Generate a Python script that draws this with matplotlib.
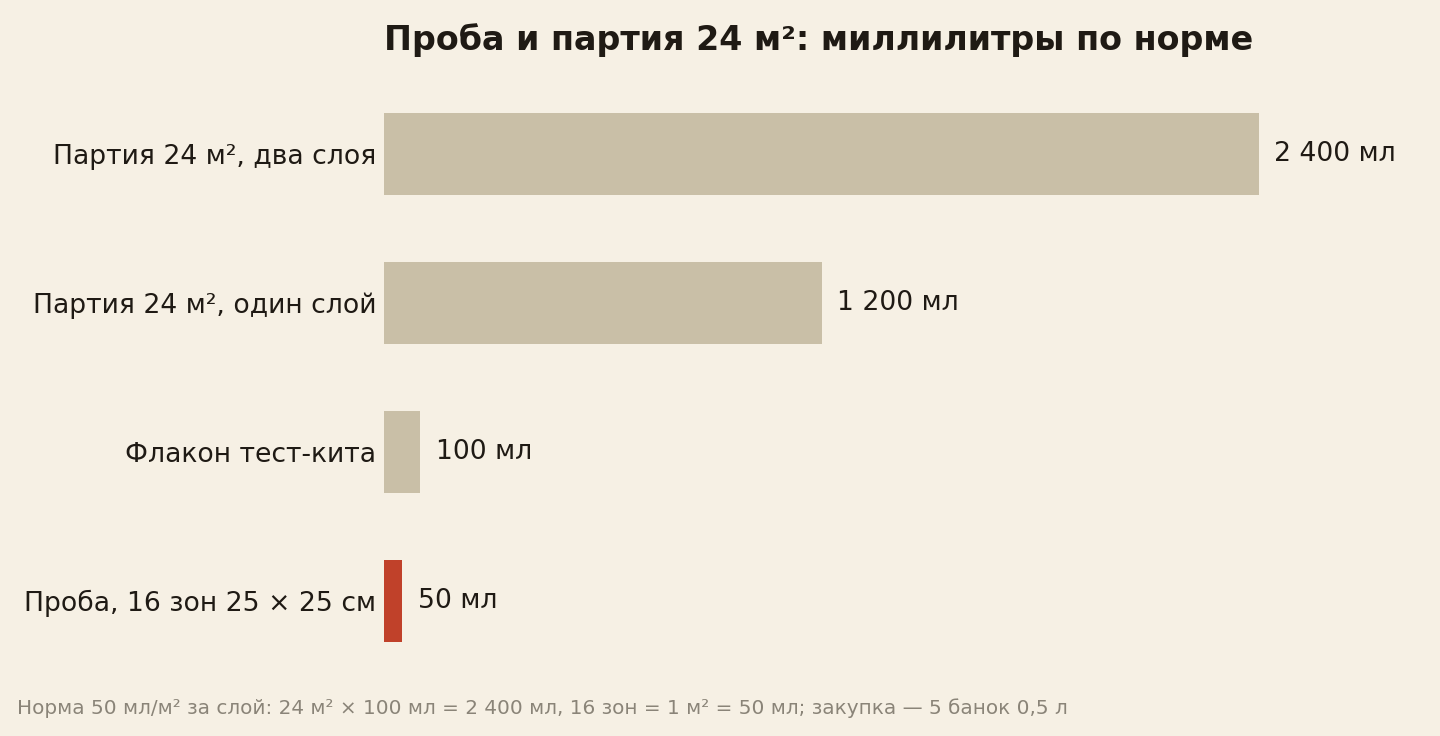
import matplotlib
matplotlib.use("Agg")
import matplotlib.pyplot as plt

categories = ["Партия 24 м², два слоя", "Партия 24 м², один слой", "Флакон тест-кита", "Проба, 16 зон 25 × 25 см"]
values = [2400, 1200, 100, 50]
value_labels = ["2 400 мл", "1 200 мл", "100 мл", "50 мл"]
colors = ["#c9bfa7", "#c9bfa7", "#c9bfa7", "#c0412a"]
title = "Проба и партия 24 м²: миллилитры по норме"
footnote = "Норма 50 мл/м² за слой: 24 м² × 100 мл = 2 400 мл, 16 зон = 1 м² = 50 мл; закупка — 5 банок 0,5 л"

bg = "#f6f0e4"
txt = "#1f1a14"

fig = plt.figure(figsize=(14.4, 7.36), dpi=100, facecolor=bg)
W, H = 1440, 736
left = 384 / W
xmax = 2640
width = (875 / 2400 * xmax) / W
top_px = 154.5 - 149 * 0.5
bot_px = 600.5 + 149 * 0.5
ax = fig.add_axes([left, 1 - bot_px / H, width, (bot_px - top_px) / H])
ax.set_facecolor(bg)

y = list(range(len(categories)))
ax.barh(y, values, height=0.55, color=colors)
ax.set_ylim(len(categories) - 0.5, -0.5)
ax.set_xlim(0, xmax)
for i, (v, lab) in enumerate(zip(values, value_labels)):
    ax.text(v + 42, i, lab, va="center", ha="left", fontsize=19.2, color=txt)
ax.set_yticks(y)
ax.set_yticklabels(categories, fontsize=19.2, color=txt)
ax.tick_params(axis="y", length=0, pad=5.5)
ax.set_xticks([])
for s in ax.spines.values():
    s.set_visible(False)

fig.text(left, 1 - 40 / H, title, fontsize=24, fontweight="bold", color=txt, ha="left", va="center")
fig.text(17 / W, 1 - 708 / H, footnote, fontsize=14.4, color="#8a8478", ha="left", va="center")

fig.savefig("out.png", dpi=100, facecolor=bg)
